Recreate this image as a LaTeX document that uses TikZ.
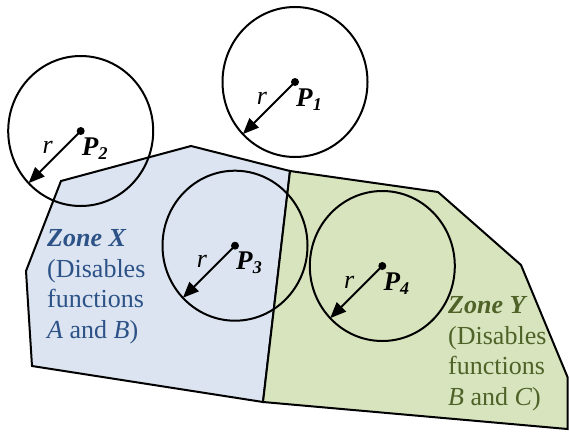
\documentclass[tikz,border=0pt]{standalone}
\usepackage{fontspec}
\setmainfont{Liberation Serif}
\usetikzlibrary{arrows.meta,shapes.geometric}
\definecolor{zxfill}{RGB}{219,228,240}
\definecolor{zyfill}{RGB}{215,228,189}
\definecolor{zxtext}{RGB}{44,82,135}
\definecolor{zytext}{RGB}{79,98,40}
\tikzset{
  zone/.style={draw=black, line width=2pt, line join=miter},
  reach/.style={ellipse, draw=black, line width=2pt, inner sep=0pt, outer sep=0pt,
                minimum width=145pt, minimum height=150pt},
  centre/.style={circle, fill=black, inner sep=0pt, minimum size=8pt},
  radius arrow/.style={line width=2pt, -{Triangle[length=16pt,width=13pt]}},
  rlabel/.style={inner sep=0pt, font=\fontsize{26}{28}\selectfont\itshape},
  plabel/.style={inner sep=0pt, anchor=base west, font=\fontsize{27}{28}\selectfont},
  zonetext/.style={inner sep=0pt, anchor=base west, align=left,
                   font=\fontsize{26}{30.5}\selectfont}
}
\begin{document}
\begin{tikzpicture}[x=1pt,y=-1pt]
\useasboundingbox (0,0) rectangle (569,431);
% zones
\filldraw[zone, fill=zxfill] (61,181) -- (191,146) -- (290,171) -- (263,402) -- (32,366) -- (26,271) -- cycle;
\filldraw[zone, fill=zyfill] (290,171) -- (438,192) -- (521,265) -- (567.5,377) -- (567.5,429) -- (263,402) -- cycle;
% circles
\foreach \n/\x/\y in {1/295/82, 2/80.7/131, 3/235/245.7, 4/382.3/266}{
  \node[reach] (c\n) at (\x,\y) {};
  \node[centre] (p\n) at (\x,\y) {};
  \draw[radius arrow] (p\n.center) -- (c\n.225);
  \node[rlabel] (r\n) at (\x-33,\y+16) {r};
  \node[plabel] (l\n) at (\x+1,\y+24) {\textbf{\textit{P}}{\fontsize{18}{20}\selectfont\raisebox{-4pt}{\textit{\textbf{\n}}}}};
}
% zone texts (anchored at the baseline of the last line)
\node[zonetext, text=zxtext] (zx) at (47,338) {\textbf{\textit{Zone X}}\\(Disables\\functions\\\textit{A} and \textit{B})};
\node[zonetext, text=zytext] (zy) at (448,405) {\textbf{\textit{Zone Y}}\\(Disables\\functions\\\textit{B} and \textit{C})};
\end{tikzpicture}
\end{document}
